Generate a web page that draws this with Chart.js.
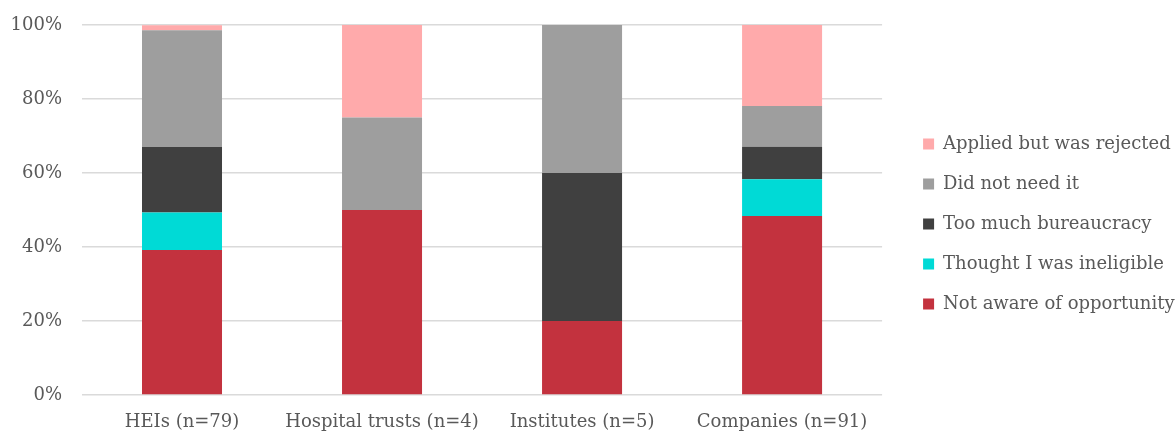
<!DOCTYPE html>
<html>
<head>
<meta charset="utf-8">
<script src="https://cdn.jsdelivr.net/npm/chart.js@4.4.3/dist/chart.umd.min.js"></script>
<style>
  html, body { margin: 0; padding: 0; background: #fff; }
  #wrap { width: 1176px; height: 432px; }
</style>
</head>
<body>
<div id="wrap"><canvas id="fundingChart"></canvas></div>
<script>
// Reasons for not applying, share of respondents per organisation type
const groups = ['HEIs (n=79)', 'Hospital trusts (n=4)', 'Institutes (n=5)', 'Companies (n=91)'];

const notAware    = [39.2, 50, 20, 48.4];
const ineligible  = [10.1, 0, 0, 9.9];
const bureaucracy = [17.7, 0, 40, 8.8];
const notNeeded   = [31.6, 25, 40, 11.0];
const rejected    = [1.3, 25, 0, 22.0];

const yTicks = [0, 20, 40, 60, 80, 100];

const textGrey = '#595959';
const fontFamily = '"DejaVu Serif", Georgia, serif';
const fontSize = 18;

// push the legend block right/up after layout
const legendNudge = {
  id: 'legendNudge',
  afterLayout(chart) {
    const lg = chart.legend;
    const dx = 19, dy = -4.5;
    lg.left += dx; lg.right += dx;
    lg.top += dy; lg.bottom += dy;
  }
};

new Chart(document.getElementById('fundingChart'), {
  type: 'bar',
  data: {
    labels: groups,
    datasets: [
      { label: 'Not aware of opportunity', data: notAware, backgroundColor: '#C3323E' },
      { label: 'Thought I was ineligible', data: ineligible, backgroundColor: '#00DAD6' },
      { label: 'Too much bureaucracy', data: bureaucracy, backgroundColor: '#404040' },
      { label: 'Did not need it', data: notNeeded, backgroundColor: '#9E9E9E' },
      { label: 'Applied but was rejected', data: rejected, backgroundColor: '#FFAAAB' }
    ]
  },
  options: {
    responsive: true,
    maintainAspectRatio: false,
    animation: false,
    layout: { padding: { top: 25, left: 10, right: 10.4, bottom: 0 } },
    datasets: { bar: { barPercentage: 0.4, categoryPercentage: 1.0 } },
    scales: {
      x: {
        stacked: true,
        grid: { display: false, drawTicks: false },
        border: { display: false },
        ticks: {
          color: textGrey,
          padding: 17,
          maxRotation: 0,
          minRotation: 0,
          autoSkip: false,
          font: { family: fontFamily, size: fontSize }
        },
        afterFit(axis) { axis.height = 37; }
      },
      y: {
        stacked: true,
        min: 0,
        max: 100,
        afterBuildTicks(axis) { axis.ticks = yTicks.map(v => ({ value: v })); },
        grid: { color: '#DADADA', lineWidth: 1.5, drawTicks: false },
        border: { display: false },
        ticks: {
          color: textGrey,
          padding: 20,
          font: { family: fontFamily, size: fontSize },
          callback: v => v + '%'
        },
        afterFit(axis) {
          axis.width = 72;
          axis.paddingTop = 0;
          axis.paddingBottom = 0;
        }
      }
    },
    plugins: {
      legend: {
        position: 'right',
        reverse: true,
        labels: {
          color: textGrey,
          boxWidth: 11,
          boxHeight: 11,
          padding: 22,
          font: { family: fontFamily, size: fontSize }
        }
      },
      tooltip: { enabled: false }
    }
  },
  plugins: [legendNudge]
});
</script>
</body>
</html>
